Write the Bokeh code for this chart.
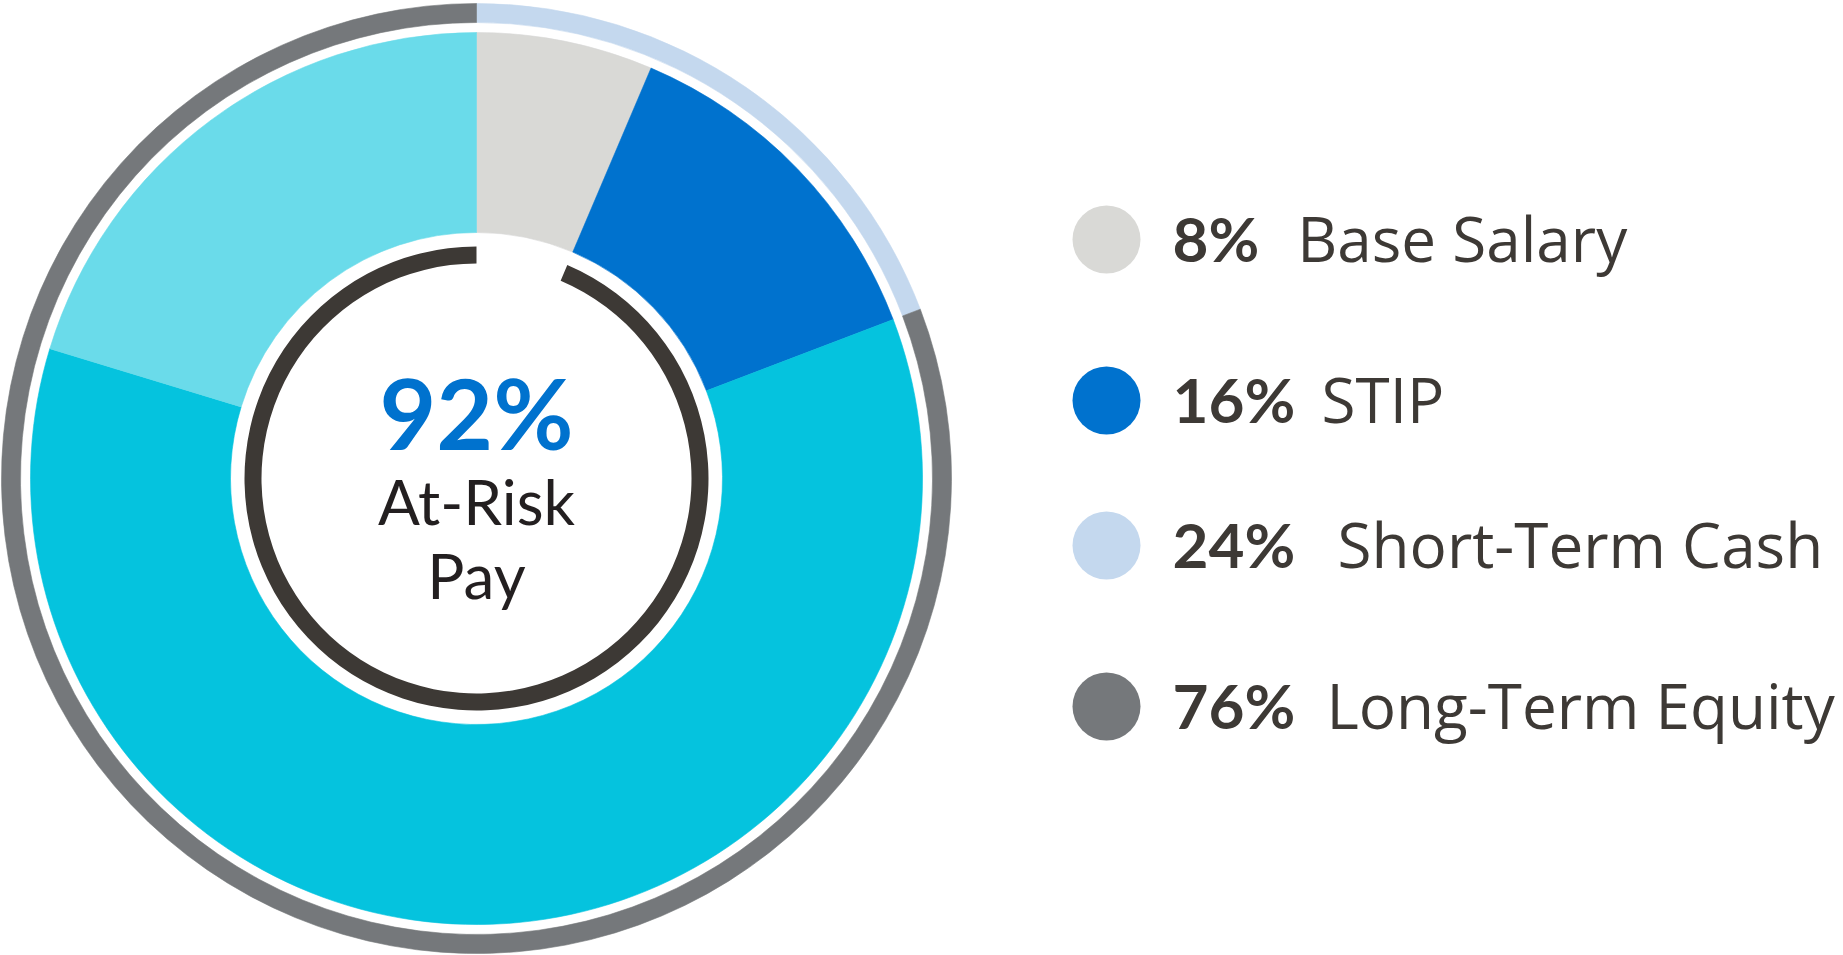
import numpy as np
from bokeh.plotting import figure
from bokeh.models import ColumnDataSource, Range1d
from bokeh.core.properties import value
from bokeh.embed import file_html
from bokeh.resources import INLINE

# ---------------- data ----------------
# legend
legend_labels = ["Base Salary", "STIP", "Short-Term Cash", "Long-Term Equity"]
legend_pcts = [8, 16, 24, 76]
legend_colors = ["#d9d9d6", "#0072ce", "#c4d8ee", "#75787b"]

# inner pie (share of the full circle, clockwise from 12 o'clock)
pie_parts = ["Base Salary", "STIP", "Long-Term Equity A", "Long-Term Equity B"]
pie_shares = [6.4, 12.8, 60.5, 20.3]
pie_colors = ["#d9d9d6", "#0072ce", "#05c3de", "#6adbea"]

# outer ring
ring_parts = ["Short-Term Cash", "Long-Term Equity"]
ring_shares = [19.2, 80.8]
ring_colors = ["#c4d8ee", "#75787b"]

# at-risk arc (starts after base salary)
at_risk_value = 92
at_risk_arc_share = 93.6
center_title = f"{at_risk_value}%"
center_lines = ["At-Risk", "Pay"]

# ---------------- layout ----------------
W, H = 1843, 955
CX, CY = 476, H - 478

p = figure(width=W, height=H, x_range=Range1d(0, W), y_range=Range1d(0, H),
           output_backend="svg", toolbar_location=None, min_border=0,
           x_axis_location=None, y_axis_location=None,
           outline_line_color=None, background_fill_color="white",
           border_fill_color="white")
p.grid.visible = False


def angles(shares, start=0.0):
    cum = np.cumsum([start] + list(shares)) / 100.0 * 2 * np.pi
    a0, a1 = cum[:-1], cum[1:]
    return list(np.pi / 2 - a1), list(np.pi / 2 - a0)


def bl(y, fs):
    # compensate renderer's baseline offset
    return y + 0.41 * fs


# inner pie
st, en = angles(pie_shares)
src = ColumnDataSource(dict(start=st, end=en, color=pie_colors))
p.annular_wedge(x=CX, y=CY, inner_radius=246, outer_radius=446,
                start_angle="start", end_angle="end", fill_color="color",
                line_color="color", line_width=0.6, source=src)

# outer ring
st, en = angles(ring_shares)
src2 = ColumnDataSource(dict(start=st, end=en, color=ring_colors))
p.annular_wedge(x=CX, y=CY, inner_radius=456, outer_radius=475,
                start_angle="start", end_angle="end", fill_color="color",
                line_color="color", line_width=0.6, source=src2)

# dark at-risk arc
st, en = angles([at_risk_arc_share], start=pie_shares[0])
p.annular_wedge(x=CX, y=CY, inner_radius=215, outer_radius=232,
                start_angle=st[0], end_angle=en[0], fill_color="#3d3935",
                line_color=None)

# centre text
p.text(x=[CX], y=[bl(CY + 26, 98)], text=[center_title], text_font=value("Lato"),
       text_font_style="bold", text_font_size="98px", text_color="#0072ce",
       text_align="center", text_baseline="alphabetic")
p.text(x=[CX, CX], y=[bl(CY - 48, 62), bl(CY - 122, 62)], text=center_lines,
       text_font=value("Lato"), text_font_size="62px", text_color="#231f20",
       text_align="center", text_baseline="alphabetic")

# legend (page rows, data y = H - page y)
FS = 62
row_page_y = [239, 400, 545, 706]
ys = [H - y for y in row_page_y]
p.circle(x=[1106] * len(ys), y=ys, radius=34, fill_color=legend_colors,
         line_color=None)

pct_txt = [f"{v}%" for v in legend_pcts]
char_em = {"1": 0.39, "2": 0.53, "4": 0.60, "6": 0.48, "7": 0.47, "8": 0.48,
           "%": 0.92}


def pct_w(s):
    return sum(char_em.get(c, 0.5) for c in s) * FS


pct_x = 1172
label_x = [pct_x + pct_w(t) + 38 for t in pct_txt]
base_y = [bl(y - 23.7, FS) for y in ys]
p.text(x=[pct_x] * len(ys), y=base_y, text=pct_txt,
       text_font=value("Lato"), text_font_style="bold",
       text_font_size=f"{FS}px", text_color="#3d3935",
       text_align="left", text_baseline="alphabetic")
p.text(x=label_x, y=base_y, text=legend_labels,
       text_font=value("Open Sans"), text_font_size=f"{FS}px", text_color="#3d3935",
       text_align="left", text_baseline="alphabetic")

open("out.html", "w").write(file_html(p, INLINE))
